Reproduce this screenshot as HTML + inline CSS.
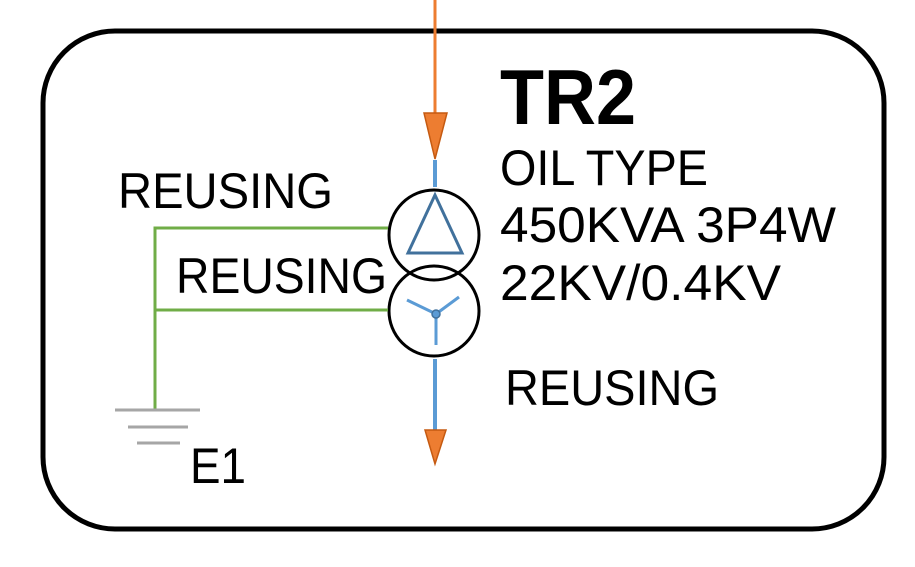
<!DOCTYPE html>
<html><head><meta charset="utf-8"><style>html,body{margin:0;padding:0;background:#fff}svg{display:block}</style></head>
<body>
<svg width="915" height="567" viewBox="0 0 915 567" xmlns="http://www.w3.org/2000/svg" font-family="Liberation Sans, sans-serif">
<rect x="43" y="31" width="841" height="498" rx="72" ry="72" fill="none" stroke="#000" stroke-width="5"/>
<line x1="435" y1="0" x2="435" y2="115" stroke="#ED7D31" stroke-width="3"/>
<polygon points="424,113 447,113 435,159" fill="#ED7D31" stroke="#C55A11" stroke-width="1.5"/>
<line x1="435" y1="160" x2="435" y2="187" stroke="#5B9BD5" stroke-width="4"/>
<line x1="435" y1="359" x2="435" y2="432" stroke="#5B9BD5" stroke-width="4"/>
<polygon points="425,430 446,430 435,464" fill="#ED7D31" stroke="#C55A11" stroke-width="1.5"/>
<circle cx="434" cy="235" r="45" fill="none" stroke="#000" stroke-width="3"/>
<circle cx="434" cy="311" r="45" fill="none" stroke="#000" stroke-width="3"/>
<polygon points="435,195 408,253 462,253" fill="none" stroke="#41719C" stroke-width="3"/>
<g stroke="#5B9BD5" stroke-width="3"><line x1="436" y1="314" x2="407" y2="300"/><line x1="436" y1="314" x2="459" y2="297"/><line x1="436" y1="314" x2="436" y2="345"/></g>
<circle cx="436" cy="314" r="4" fill="#5B9BD5" stroke="#41719C" stroke-width="1.5"/>
<g stroke="#70AD47" stroke-width="3" fill="none"><polyline points="388,228 155,228 155,410"/><line x1="155" y1="310" x2="388" y2="310"/></g>
<g stroke="#A6A6A6" stroke-width="3"><line x1="115" y1="410" x2="200" y2="410"/><line x1="128" y1="427" x2="188" y2="427"/><line x1="137" y1="443" x2="180" y2="443"/></g>
<text x="500" y="124" font-size="78" font-weight="bold" textLength="136" lengthAdjust="spacingAndGlyphs">TR2</text>
<g font-size="50">
<text x="500" y="185" textLength="208" lengthAdjust="spacingAndGlyphs">OIL TYPE</text>
<text x="500" y="242" textLength="336" lengthAdjust="spacingAndGlyphs">450KVA 3P4W</text>
<text x="500" y="300" textLength="281" lengthAdjust="spacingAndGlyphs">22KV/0.4KV</text>
<text x="505" y="405" textLength="214" lengthAdjust="spacingAndGlyphs">REUSING</text>
<text x="118" y="208" textLength="215" lengthAdjust="spacingAndGlyphs">REUSING</text>
<text x="176" y="293" textLength="211" lengthAdjust="spacingAndGlyphs">REUSING</text>
<text x="190" y="483" textLength="56" lengthAdjust="spacingAndGlyphs">E1</text>
</g>
</svg>
</body></html>
